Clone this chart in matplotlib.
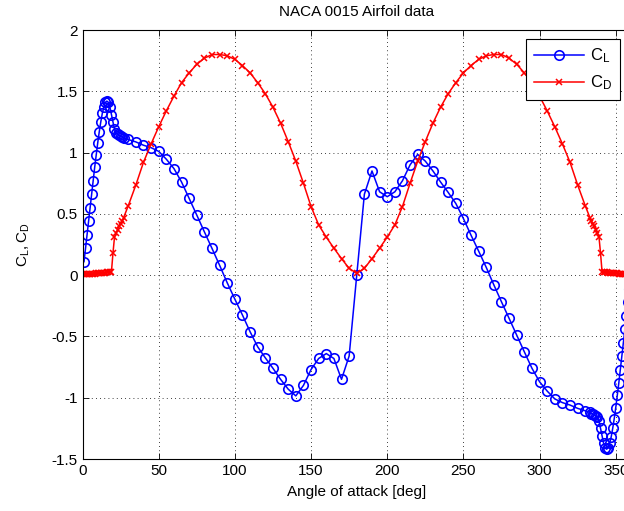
import matplotlib
matplotlib.use("Agg")
import matplotlib.pyplot as plt
from matplotlib.ticker import FuncFormatter

plt.rcParams["font.family"] = ["Liberation Sans", "DejaVu Sans"]
plt.rcParams["axes.unicode_minus"] = False

# angle of attack [deg]
alpha_left = [0, 1, 2, 3, 4, 5, 6, 7, 8, 9, 10, 11, 12, 13, 14, 15, 16, 17, 18, 19,
              20, 21, 22, 23, 24, 25, 26, 27,
              30, 35, 40, 45, 50, 55, 60, 65, 70, 75, 80, 85, 90, 95, 100, 105, 110,
              115, 120, 125, 130, 135, 140, 145, 150, 155, 160, 165, 170, 175, 180]
alpha_right = [185, 190, 195, 200, 205, 210, 215, 220, 225, 230, 235, 240, 245, 250,
               255, 260, 265, 270, 275, 280, 285, 290, 295, 300, 305, 310, 315, 320,
               325, 330,
               333, 334, 335, 336, 337, 338, 339, 340, 341, 342, 343, 344, 345, 346,
               347, 348, 349, 350, 351, 352, 353, 354, 355, 356, 357, 358, 359, 360]

# lift: first point at 1 deg (no visible marker at 0 deg in the original)
cl_left = [0.11, 0.22, 0.33, 0.44, 0.55, 0.66, 0.77, 0.88, 0.98, 1.08, 1.17, 1.25,
           1.32, 1.37, 1.41, 1.42, 1.41, 1.37, 1.31, 1.25, 1.19, 1.16, 1.15, 1.14, 1.135,
           1.13, 1.12,
           1.107, 1.087, 1.06, 1.04, 1.01, 0.946, 0.87, 0.76, 0.626, 0.49, 0.353, 0.218,
           0.08, -0.063, -0.196, -0.326, -0.462, -0.585, -0.675, -0.76, -0.85, -0.93,
           -0.985, -0.90, -0.77, -0.68, -0.64, -0.68, -0.85, -0.66, 0.0]
cl_right = [0.66, 0.85, 0.68, 0.64, 0.68, 0.77, 0.90, 0.985, 0.93, 0.85, 0.76, 0.675,
            0.585, 0.462, 0.326, 0.196, 0.063, -0.08, -0.218, -0.353, -0.49, -0.626,
            -0.76, -0.87, -0.946, -1.01, -1.04, -1.06, -1.087, -1.107,
            -1.12, -1.13, -1.135, -1.14, -1.15, -1.16, -1.19, -1.25, -1.31, -1.37, -1.41,
            -1.42, -1.41, -1.37, -1.32, -1.25, -1.17, -1.08, -0.98, -0.88, -0.77, -0.66,
            -0.55, -0.44, -0.33, -0.22, -0.11, 0.0]

cd_left = [0.006, 0.006, 0.007, 0.008, 0.009, 0.010, 0.011, 0.012, 0.013, 0.014, 0.015,
           0.016, 0.017, 0.018, 0.019, 0.020, 0.022, 0.024, 0.026, 0.028, 0.18, 0.31,
           0.34, 0.37, 0.40, 0.42, 0.44, 0.47,
           0.565, 0.735, 0.92, 1.07, 1.21, 1.34, 1.46, 1.57, 1.65, 1.72, 1.77, 1.80, 1.80,
           1.79, 1.76, 1.71, 1.65, 1.57, 1.48, 1.37, 1.24, 1.09, 0.93, 0.75, 0.56, 0.41,
           0.31, 0.22, 0.135, 0.055, 0.015]
cd_right = [0.055, 0.135, 0.22, 0.31, 0.41, 0.56, 0.75, 0.93, 1.09, 1.24, 1.37, 1.48,
            1.57, 1.65, 1.71, 1.76, 1.79, 1.80, 1.80, 1.77, 1.72, 1.65, 1.57, 1.46, 1.34,
            1.21, 1.07, 0.92, 0.735, 0.565,
            0.47, 0.44, 0.42, 0.40, 0.37, 0.34, 0.31, 0.18, 0.028, 0.026, 0.024, 0.022,
            0.020, 0.019, 0.018, 0.017, 0.016, 0.015, 0.014, 0.013, 0.012, 0.011, 0.010,
            0.009, 0.008, 0.007, 0.006, 0.006]

alpha = alpha_left + alpha_right
alpha_cl = alpha_left[1:] + alpha_right
cl = cl_left + cl_right
cd = cd_left + cd_right

fig = plt.figure(figsize=(6.24, 5.11), dpi=100)
# axes run past the right edge of the figure (cropped like the original)
ax = fig.add_axes([82.5 / 624, 52 / 511, 548.5 / 624, 429 / 511])

ax.plot(alpha_cl, cl, color="#0000ff", lw=1.1, marker="o", ms=6.8, mfc="none",
        mec="#0000ff", mew=1.2, label=r"$\mathregular{C_L}$")
ax.plot(alpha, cd, color="#ff0000", lw=1.1, marker="x", ms=4.6, mec="#ff0000",
        mew=1.1, label=r"$\mathregular{C_D}$")

ax.set_xlim(0, 360)
ax.set_ylim(-1.5, 2)
ax.set_xticks(range(0, 351, 50))
ax.set_yticks([-1.5, -1, -0.5, 0, 0.5, 1, 1.5, 2])
ax.yaxis.set_major_formatter(FuncFormatter(lambda v, p: f"{v:g}"))
ax.tick_params(direction="in", top=True, right=True, labelsize=11, length=4, width=0.6)
ax.grid(True, linestyle=(0, (1, 4)), color="k", lw=0.6)
for s in ax.spines.values():
    s.set_linewidth(0.8)

ax.set_title("NACA 0015 Airfoil data", fontsize=11, pad=10)
ax.set_xlabel("Angle of attack [deg]", fontsize=11, labelpad=5)
ax.set_ylabel(r"$\mathregular{C_L, C_D}$", fontsize=11, labelpad=14)

leg = ax.legend(loc="upper right", bbox_to_anchor=(620 / 624, 1 - 39 / 511),
                bbox_transform=fig.transFigure, fontsize=12, handlelength=3.0,
                borderpad=0.45, labelspacing=0.5, handletextpad=0.4,
                fancybox=False, framealpha=1, borderaxespad=0)
leg.get_frame().set_edgecolor("k")
leg.get_frame().set_linewidth(0.8)

fig.savefig("out.png", dpi=100)
